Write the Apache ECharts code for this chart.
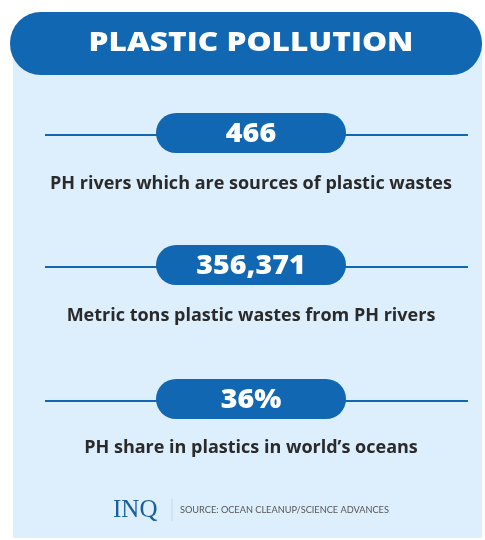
<!DOCTYPE html>
<html>
<head>
<meta charset="utf-8">
<script src="https://cdn.jsdelivr.net/npm/echarts@6/dist/echarts.min.js"></script>
<style>html,body{margin:0;padding:0;background:#fff}#c{width:485px;height:540px}</style>
</head>
<body>
<div id="c"></div>
<script>
var titleText = 'PLASTIC POLLUTION';
var statValues = ['466', '356,371', '36%'];
var statLabels = [
  'PH rivers which are sources of plastic wastes',
  'Metric tons plastic wastes from PH rivers',
  'PH share in plastics in world\u2019s oceans'
];
var logoText = 'INQ';
var sourceText = 'SOURCE: OCEAN CLEANUP/SCIENCE ADVANCES';

var BLUE = '#1167b1';
var PANEL = '#ddeefc';
var TEXT = '#2a2a2a';
var rowPillCenters = [133, 265, 399];
var rowLabelCenters = [184, 316, 448];
var CX = 251;

var els = [];
els.push({type: 'rect', shape: {x: 13, y: 40, width: 469, height: 498}, style: {fill: PANEL}, z: 1});
els.push({type: 'rect', shape: {x: 10, y: 12, width: 472, height: 63, r: 31}, style: {fill: BLUE}, z: 2});
els.push({type: 'text', x: CX, y: 43, scaleX: 1.17, originX: 0, style: {text: titleText, fill: '#fff', font: '800 27px "Open Sans"', align: 'center', verticalAlign: 'middle'}, z: 3});

statValues.forEach(function (v, i) {
  var cy = rowPillCenters[i];
  els.push({type: 'line', shape: {x1: 45, y1: cy + 2, x2: 468, y2: cy + 2}, style: {stroke: BLUE, lineWidth: 2}, z: 2});
  els.push({type: 'rect', shape: {x: 156, y: cy - 20, width: 190, height: 40, r: 20}, style: {fill: BLUE}, z: 3});
  els.push({type: 'text', x: CX, y: cy + 1, scaleX: 1.06, style: {text: v, fill: '#fff', font: '800 27px "Open Sans"', align: 'center', verticalAlign: 'middle'}, z: 4});
  els.push({type: 'text', x: CX, y: rowLabelCenters[i], style: {text: statLabels[i], fill: TEXT, font: '700 18px "Open Sans"', align: 'center', verticalAlign: 'middle'}, z: 4});
});

els.push({type: 'text', x: 113, y: 510, style: {text: logoText, fill: '#1a5e9a', font: '400 25px "Liberation Serif"', align: 'left', verticalAlign: 'middle'}, z: 4});
els.push({type: 'line', shape: {x1: 172, y1: 499, x2: 172, y2: 521}, style: {stroke: '#c9d6e2', lineWidth: 1}, z: 4});
els.push({type: 'text', x: 180, y: 510, style: {text: sourceText, fill: '#555', font: '400 9.2px "Lato"', align: 'left', verticalAlign: 'middle'}, z: 4});

var chart = echarts.init(document.getElementById('c'), null, {renderer: 'canvas'});
chart.setOption({animation: false, backgroundColor: '#fff', graphic: {elements: els}});
</script>
</body>
</html>
